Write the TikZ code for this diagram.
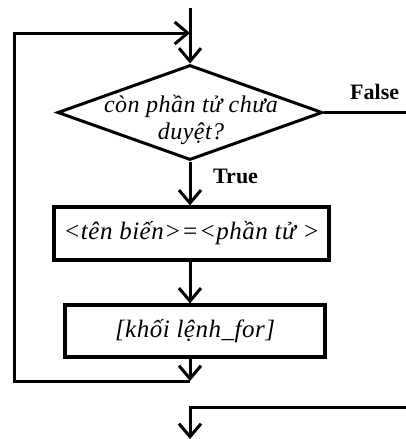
\documentclass[tikz,border=0pt]{standalone}
\usepackage{fontspec}
\setmainfont{Liberation Serif}
\usetikzlibrary{arrows.meta,shapes.geometric}
\tikzset{
  flow/.style={line width=3pt},
  barb/.style={-{Straight Barb[length=13pt,width=22pt,line width=3pt]}},
  boxnode/.style={draw,line width=3.2pt,inner sep=0pt,font=\fontsize{25}{28}\selectfont\itshape\addfontfeature{LetterSpace=2}},
  lbl/.style={font=\fontsize{22}{26}\selectfont\bfseries,inner sep=0pt}
}
\begin{document}
\begin{tikzpicture}[x=1pt,y=-1pt]
\useasboundingbox (0,0) rectangle (406,439);
% nodes
\coordinate (top) at (190,8);
\node[draw,diamond,flow,minimum width=265pt,minimum height=95pt,inner sep=0pt] (dec) at (190,112.5) {};
\node[align=center,inner sep=0pt,font=\fontsize{24}{27}\selectfont\itshape\addfontfeature{LetterSpace=2}] (dectext) at (191,120) {còn phần tử chưa\\duyệt?};
\node[boxnode,minimum width=275pt,minimum height=53pt] (b1) at (191.5,233.5) {<tên biến>=<phần tử >};
\node[boxnode,minimum width=260pt,minimum height=52pt] (b2) at (195,331) {[khối lệnh\_for]};
\coordinate (lp) at (190,381);
\coordinate (lpl) at (14,381);
\coordinate (lpt) at (14,33);
\coordinate (ent) at (190,33);
\coordinate (fe) at (406,112.5);
\coordinate (bs) at (406,407);
\coordinate (bm) at (190,407);
\coordinate (be) at (190,439);
\node[lbl,anchor=west] (false) at (350,92) {False};
\node[lbl,anchor=west] (true) at (213,176) {True};
% connectors
\draw[flow,barb] (top) -- (dec.north);
\draw[flow,barb] (dec.south) -- (dec.south |- b1.north);
\draw[flow,barb] (b1.south -| dec.south) -- (dec.south |- b2.north);
\draw[flow,barb] (dec.south |- b2.south) -- (lp);
\draw[flow,barb] (lp) -- (lpl) -- (lpt) -- (ent);
\draw[flow] (dec.east) -- (fe);
\draw[flow,barb] (bs) -- (bm) -- (be);
\end{tikzpicture}
\end{document}
